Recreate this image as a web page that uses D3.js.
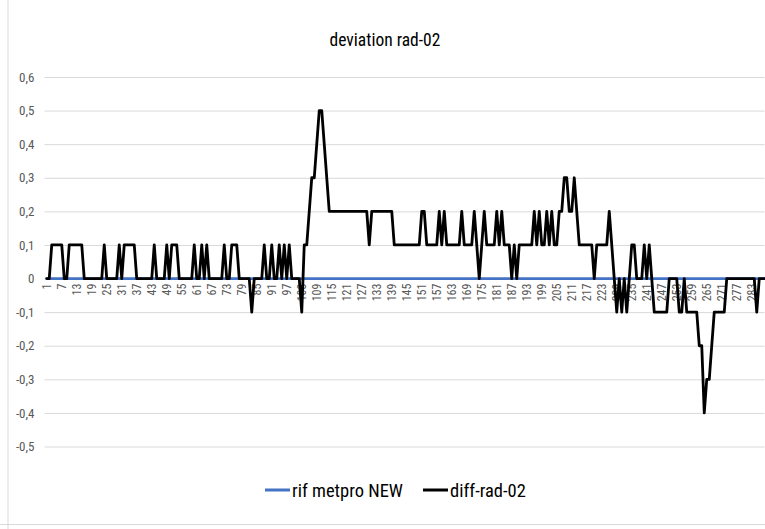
<!DOCTYPE html>
<html>
<head>
<meta charset="utf-8">
<script src="https://cdn.jsdelivr.net/npm/d3@7"></script>
<style>
  html, body { margin: 0; padding: 0; background: #fff; }
  svg { display: block; }
  text { font-family: "Liberation Sans Narrow", "Arial Narrow", "Roboto Condensed", "Liberation Sans", sans-serif; }
</style>
</head>
<body>
<svg id="chart" width="765" height="529"></svg>
<script>
// ---- data ----
const title = "deviation rad-02";
const seriesNames = ["rif metpro NEW", "diff-rad-02"];
const categories = d3.range(1, 289); // 1 .. 288
const tickLabels = [1,7,13,19,25,31,37,43,49,55,61,67,73,79,85,91,97,103,109,115,121,127,133,139,145,151,157,163,169,175,181,187,193,199,205,211,217,223,229,235,241,247,253,259,265,271,277,283];
const yTicks = [-0.5,-0.4,-0.3,-0.2,-0.1,0,0.1,0.2,0.3,0.4,0.5,0.6];

const rifMetpro = [
  0,0,0,0,0,0,0,0,0,0,0,0,0,0,0,0,0,0,0,0,0,0,0,0,
  0,0,0,0,0,0,0,0,0,0,0,0,0,0,0,0,0,0,0,0,0,0,0,0,
  0,0,0,0,0,0,0,0,0,0,0,0,0,0,0,0,0,0,0,0,0,0,0,0,
  0,0,0,0,0,0,0,0,0,0,0,0,0,0,0,0,0,0,0,0,0,0,0,0,
  0,0,0,0,0,0,0,0,0,0,0,0,0,0,0,0,0,0,0,0,0,0,0,0,
  0,0,0,0,0,0,0,0,0,0,0,0,0,0,0,0,0,0,0,0,0,0,0,0,
  0,0,0,0,0,0,0,0,0,0,0,0,0,0,0,0,0,0,0,0,0,0,0,0,
  0,0,0,0,0,0,0,0,0,0,0,0,0,0,0,0,0,0,0,0,0,0,0,0,
  0,0,0,0,0,0,0,0,0,0,0,0,0,0,0,0,0,0,0,0,0,0,0,0,
  0,0,0,0,0,0,0,0,0,0,0,0,0,0,0,0,0,0,0,0,0,0,0,0,
  0,0,0,0,0,0,0,0,0,0,0,0,0,0,0,0,0,0,0,0,0,0,0,0,
  0,0,0,0,0,0,0,0,0,0,0,0,0,0,0,0,0,0,0,0,0,0,0,0
];

const diffRad02 = [
  0,0,.1,.1,.1,.1,.1,0,0,.1,.1,.1,
  .1,.1,.1,0,0,0,0,0,0,0,0,.1,
  0,0,0,0,0,.1,0,.1,.1,.1,.1,.1,
  0,0,0,0,0,0,0,.1,0,0,0,0,
  .1,0,.1,.1,.1,0,0,0,0,0,0,.1,
  0,0,.1,0,.1,0,0,0,0,0,0,.1,
  0,0,.1,.1,.1,0,0,0,0,0,-.1,0,
  0,0,0,.1,0,0,.1,0,0,.1,0,.1,
  0,.1,0,0,0,0,-.1,.1,.1,.2,.3,.3,
  .4,.5,.5,.4,.3,.2,.2,.2,.2,.2,.2,.2,
  .2,.2,.2,.2,.2,.2,.2,.2,.2,.1,.2,.2,
  .2,.2,.2,.2,.2,.2,.2,.1,.1,.1,.1,.1,
  .1,.1,.1,.1,.1,.1,.2,.2,.1,.1,.1,.1,
  .1,.2,.1,.2,.1,.1,.1,.1,.1,.1,.2,.1,
  .1,.1,.1,.2,.1,0,.1,.2,.1,.1,.1,.1,
  .2,.1,.2,.1,.1,.1,0,.1,0,.1,.1,.1,
  .1,.1,.1,.2,.1,.2,.1,.1,.2,.1,.2,.1,
  .1,.2,.2,.3,.3,.2,.2,.3,.2,.1,.1,.1,
  .1,.1,.1,0,.1,.1,.1,.1,.1,.2,.1,0,
  -.1,0,-.1,0,-.1,0,.1,.1,0,0,0,.1,
  0,.1,0,-.1,-.1,-.1,-.1,-.1,-.1,0,0,0,
  0,-.1,-.1,0,-.1,-.1,-.1,-.1,-.1,-.2,-.2,-.4,
  -.3,-.3,-.2,-.1,-.1,-.1,-.1,-.1,0,0,0,0,
  0,0,0,0,0,0,0,0,-.1,0,0,0
];

const colors = ["#4472C4", "#000000"];

// ---- drawing ----
const svg = d3.select("#chart");
const W = 765, H = 529;
const plot = { left: 45.5, right: 765.5, top: 77, bottom: 446.5 };

// sheet grid lines outside the chart
svg.append("line").attr("x1", 8).attr("x2", 8).attr("y1", 0).attr("y2", H)
  .attr("stroke", "#d9d9d9").attr("stroke-width", 1);
svg.append("line").attr("x1", 0).attr("x2", W).attr("y1", 524.5).attr("y2", 524.5)
  .attr("stroke", "#d9d9d9").attr("stroke-width", 1);

const x = d3.scalePoint().domain(categories).range([plot.left, plot.right]).padding(0.5);
const y = d3.scaleLinear().domain([-0.5, 0.6]).range([plot.bottom, plot.top]);

// gridlines + y labels
const yAxis = d3.axisLeft(y).tickValues(yTicks).tickSize(-(plot.right - plot.left)).tickPadding(10)
  .tickFormat(v => Math.abs(v) < 1e-9 ? "0" : d3.format(".1f")(v).replace(".", ",").replace("−", "-"));
const gy = svg.append("g").attr("transform", `translate(${plot.left - 1},0)`).call(yAxis);
gy.select(".domain").remove();
gy.selectAll(".tick line").attr("stroke", "#d9d9d9").attr("stroke-width", 1);
gy.selectAll(".tick text").attr("fill", "#595959").attr("font-size", 13);

// x axis at y=0 with rotated labels
const xAxis = d3.axisBottom(x).tickValues(tickLabels).tickSize(0).tickPadding(0);
const gx = svg.append("g").attr("transform", `translate(0,${y(0)})`).call(xAxis);
gx.select(".domain").attr("stroke", "#d9d9d9");
gx.selectAll(".tick text")
  .attr("fill", "#595959").attr("font-size", 12)
  .attr("text-anchor", "end")
  .attr("transform", "translate(0,5) rotate(-90)")
  .attr("x", 0).attr("y", 0).attr("dy", "0.35em");

// lines
const line = d3.line().x((d, i) => x(categories[i])).y(d => y(d));
const seriesData = [rifMetpro, diffRad02];
seriesData.forEach((s, k) => {
  svg.append("path").datum(s).attr("d", line)
    .attr("fill", "none").attr("stroke", colors[k]).attr("stroke-width", 2.8)
    .attr("stroke-linejoin", "round").attr("stroke-linecap", "round");
});

// title
svg.append("text").attr("x", 385).attr("y", 46).attr("text-anchor", "middle")
  .attr("font-size", 17.5).attr("fill", "#000").text(title);

// legend
const legendItems = [
  { name: seriesNames[0], color: colors[0], x: 265 },
  { name: seriesNames[1], color: colors[1], x: 423 }
];
const lg = svg.append("g");
legendItems.forEach(it => {
  lg.append("line").attr("x1", it.x).attr("x2", it.x + 25).attr("y1", 490).attr("y2", 490)
    .attr("stroke", it.color).attr("stroke-width", 3);
  lg.append("text").attr("x", it.x + 27).attr("y", 497).attr("font-size", 18.5)
    .attr("fill", "#000").text(it.name);
});
</script>
</body>
</html>
